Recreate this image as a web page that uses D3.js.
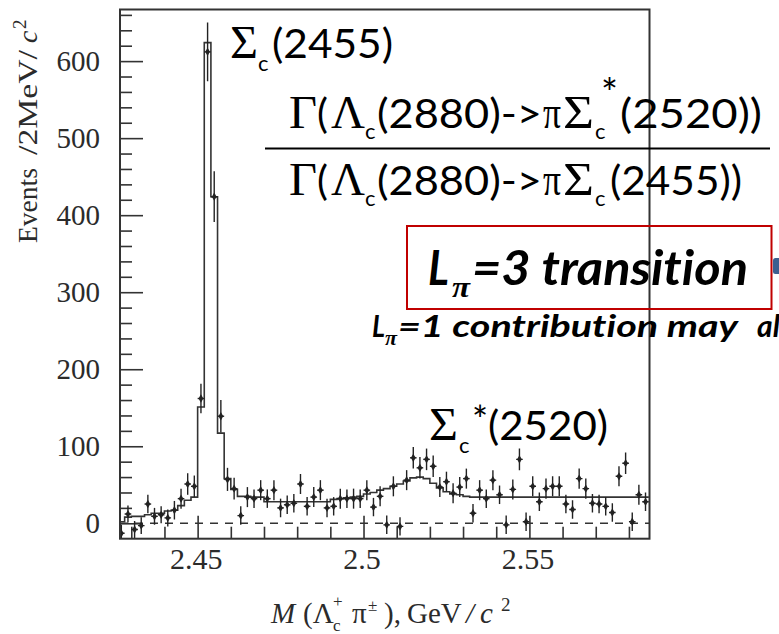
<!DOCTYPE html>
<html>
<head>
<meta charset="utf-8">
<script src="https://cdn.jsdelivr.net/npm/d3@7"></script>
<style>
  body { margin: 0; background: #fff; }
  svg { display: block; }
  text { font-variant-ligatures: none; }
</style>
</head>
<body>
<svg id="chart"></svg>
<script>
// bin centres, GeV/c^2 (2 MeV bins)
var masses = [2.427, 2.429, 2.431, 2.433, 2.435, 2.437, 2.439, 2.441, 2.443, 2.445,
  2.447, 2.449, 2.451, 2.453, 2.455, 2.457, 2.459, 2.461, 2.463, 2.465,
  2.467, 2.469, 2.471, 2.473, 2.475, 2.477, 2.479, 2.481, 2.483, 2.485,
  2.487, 2.489, 2.491, 2.493, 2.495, 2.497, 2.499, 2.501, 2.503, 2.505,
  2.507, 2.509, 2.511, 2.513, 2.515, 2.517, 2.519, 2.521, 2.523, 2.525,
  2.527, 2.529, 2.531, 2.533, 2.535, 2.537, 2.539, 2.541, 2.543, 2.545,
  2.547, 2.549, 2.551, 2.553, 2.555, 2.557, 2.559, 2.561, 2.563, 2.565,
  2.567, 2.569, 2.571, 2.573, 2.575, 2.577, 2.579, 2.581, 2.583, 2.585];

var events = [-13, 12, -8, -3, 25, 9, 11, 7, 17, 32,
  51, 48, 162, 612, 424, 139, 57, 45, 10, 34,
  32, 43, 32, 43, 20, 24, 26, 51, 22, 34,
  43, 20, 22, 32, 32, 32, 32, 43, 21, 35,
  -2, 48, -4, 56, 85, 72, 83, 74, 47, 54,
  39, 47, 58, 13, 43, 32, 56, 37, -2, 44,
  83, 2, 48, 28, 45, 48, 48, 25, 18, 58,
  45, 26, 25, 22, 14, 61, 78, 2, 37, 28];

var errors = [11, 11, 11, 11, 12, 11, 11, 11, 12, 13,
  14, 14, 19, 38, 33, 21, 15, 14, 12, 13,
  12, 13, 12, 13, 12, 12, 12, 13, 12, 13,
  13, 12, 12, 13, 12, 13, 12, 13, 12, 13,
  12, 13, 12, 13, 14, 14, 14, 14, 13, 13,
  13, 13, 13, 12, 13, 12, 13, 12, 12, 13,
  14, 12, 13, 12, 13, 13, 13, 12, 12, 13,
  13, 12, 12, 12, 12, 13, 14, 12, 13, 12];

var fit = [2, 8, 9, 9, 11, 13, 13, 16, 17, 23,
  30, 34, 151, 624, 424, 117, 58, 44, 35, 35,
  34, 34, 28, 28, 28, 28, 28, 28, 28, 28,
  28, 28, 31, 32, 33, 34, 35, 38, 40, 43,
  45, 48, 51, 55, 59, 60, 58, 52, 46, 41,
  38, 37, 35, 34, 34, 34, 34, 34, 34, 34,
  34, 34, 34, 34, 34, 34, 34, 34, 34, 34,
  34, 34, 34, 34, 34, 34, 34, 34, 34, 34];

var yTicks = [0, 100, 200, 300, 400, 500, 600];
var yMinor = [20, 40, 60, 80, 120, 140, 160, 180, 220, 240, 260, 280, 320, 340, 360, 380,
  420, 440, 460, 480, 520, 540, 560, 580, 620, 640, 660];
var xTicks = [2.45, 2.5, 2.55];
var xMinor = [2.43, 2.44, 2.46, 2.47, 2.48, 2.49, 2.51, 2.52, 2.53, 2.54, 2.56, 2.57, 2.58];

var ink = "#2b2b2b";
var serif = "'Liberation Serif', 'Times New Roman', serif";
var sans = "Lato, 'Open Sans', sans-serif";

var svg = d3.select("#chart").attr("width", 779).attr("height", 634);

var x = d3.scaleLinear().domain([2.4266, 2.5862]).range([120, 649.5]);
var y = d3.scaleLinear().domain([-20, 667]).range([538.7, 9.5]);

svg.append("defs").append("clipPath").attr("id", "plot")
  .append("rect").attr("x", 120).attr("y", 9.5).attr("width", 529.5).attr("height", 529.2);

function styleAxis(g) {
  g.select(".domain").remove();
  g.selectAll("line").attr("stroke", "#333").attr("stroke-width", 1.6);
  g.attr("font-family", serif).attr("font-size", 29);
  g.selectAll("text").attr("fill", ink);
}

// y axis: minor + major ticks pointing inward
svg.append("g").attr("transform", "translate(120,0)")
  .call(d3.axisLeft(y).tickValues(yMinor).tickSize(-12).tickFormat(""))
  .call(styleAxis);
svg.append("g").attr("transform", "translate(120,0)")
  .call(d3.axisLeft(y).tickValues(yTicks).tickSize(-23).tickPadding(20).tickFormat(d3.format("d")))
  .call(styleAxis);

// x axis
svg.append("g").attr("transform", "translate(0,538.7)")
  .call(d3.axisBottom(x).tickValues(xMinor).tickSize(-12).tickFormat(""))
  .call(styleAxis);
svg.append("g").attr("transform", "translate(0,538.7)")
  .call(d3.axisBottom(x).tickValues(xTicks).tickSize(-23).tickPadding(9).tickFormat(d3.format("")))
  .call(styleAxis)
  .call(g => g.selectAll("text").attr("font-size", 30).attr("dx", -2));

// zero line
svg.append("line")
  .attr("x1", 120).attr("x2", 649.5).attr("y1", y(0)).attr("y2", y(0))
  .attr("stroke", "#333").attr("stroke-width", 1.4).attr("stroke-dasharray", "8,7");

var plot = svg.append("g").attr("clip-path", "url(#plot)");

// fit histogram
var steps = masses.map((m, i) => [m - 0.001, fit[i]]);
steps.push([masses[masses.length - 1] + 0.001, fit[fit.length - 1]]);
plot.append("path")
  .datum(steps)
  .attr("fill", "none")
  .attr("stroke", "#333")
  .attr("stroke-width", 1.6)
  .attr("d", d3.line().x(d => x(d[0])).y(d => y(d[1])).curve(d3.curveStepAfter));

// data points with error bars
var pts = plot.selectAll("g.pt").data(masses).join("g").attr("class", "pt");
pts.append("line")
  .attr("x1", d => x(d)).attr("x2", d => x(d))
  .attr("y1", (d, i) => y(events[i] - errors[i]))
  .attr("y2", (d, i) => y(events[i] + errors[i]))
  .attr("stroke", "#222").attr("stroke-width", 1.4);
pts.append("line")
  .attr("x1", d => x(d) - 3.3).attr("x2", d => x(d) + 3.3)
  .attr("y1", (d, i) => y(events[i])).attr("y2", (d, i) => y(events[i]))
  .attr("stroke", "#222").attr("stroke-width", 1.4);
pts.append("path")
  .attr("d", d3.symbol(d3.symbolDiamond, 20))
  .attr("transform", (d, i) => "translate(" + x(d) + "," + y(events[i]) + ")")
  .attr("fill", "#222");

// frame
svg.append("rect")
  .attr("x", 120).attr("y", 9.5).attr("width", 529.5).attr("height", 529.2)
  .attr("fill", "none").attr("stroke", "#333").attr("stroke-width", 2);

// axis titles
var yt = svg.append("g").attr("transform", "translate(36.5,243) rotate(-90)")
  .attr("font-family", serif).attr("fill", ink).attr("font-size", 28);
yt.append("text").attr("x", 0).attr("textLength", 75).attr("lengthAdjust", "spacingAndGlyphs").text("Events");
yt.append("text").attr("x", 88).attr("textLength", 105).attr("lengthAdjust", "spacingAndGlyphs").text("/2MeV/");
yt.append("text").attr("x", 200).attr("font-style", "italic").text("c");
yt.append("text").attr("x", 214).attr("y", -11).attr("font-size", 19).text("2");

var xt = svg.append("g").attr("font-family", serif).attr("fill", ink).attr("font-size", 29);
function xtPart(t, px, py, size, italic) {
  var e = xt.append("text").attr("x", px).attr("y", py).text(t);
  if (size) e.attr("font-size", size);
  if (italic) e.attr("font-style", "italic");
  return e;
}
xtPart("M", 271, 623, null, true);
xtPart("(\u039B", 303, 623);
xtPart("c", 333, 631, 17);
xtPart("+", 333, 607, 17);
xtPart("\u03C0", 352, 623);
xtPart("\u00B1", 368, 611, 17);
xtPart("),", 384, 623);
xtPart("GeV", 407, 623);
xtPart("/", 466, 623, null, true);
xtPart("c", 480, 623, null, true);
xtPart("2", 501, 611, 19);

// annotations
var ann = svg.append("g").attr("fill", "#000");
function part(t, px, py, fam, size, len, extra) {
  var e = ann.append("text").attr("x", px).attr("y", py)
    .attr("font-family", fam).attr("font-size", size).text(t);
  if (len) e.attr("textLength", len).attr("lengthAdjust", "spacingAndGlyphs");
  if (extra) Object.keys(extra).forEach(k => e.attr(k, extra[k]));
  return e;
}

// Sigma_c(2455)
part("\u03A3", 230, 58, serif, 46, 28);
part("c", 258, 71, sans, 22);
part("(2455)", 272, 58, sans, 41, 121);

// ratio
[[128, "(2520))", 142, true], [195, "(2455))", 132, false]].forEach(function (r) {
  var b = r[0];
  part("\u0393", 289, b, serif, 46, 28);
  part("(", 317, b, sans, 41);
  part("\u039B", 331, b, serif, 46, 34);
  part("c", 365, b + 11, sans, 22);
  part("(2880)->", 377, b, sans, 41, 165);
  part("\u03C0", 543, b, serif, 46, 18);
  part("\u03A3", 563, b, serif, 46, 31);
  part("c", 595, b + 11, sans, 22);
  if (r[3]) part("*", 601, b - 20, sans, 40);
  part(r[1], r[3] ? 620 : 610, b, sans, 41, r[2]);
});
ann.append("line").attr("x1", 265).attr("x2", 770).attr("y1", 148.5).attr("y2", 148.5)
  .attr("stroke", "#000").attr("stroke-width", 2.2);

// Sigma_c*(2520)
part("\u03A3", 429, 440, serif, 46, 29);
part("c", 459, 453, sans, 22);
part("*", 472, 434, sans, 38);
part("(2520)", 488, 440, sans, 41, 120);

// boxed transition text
ann.append("rect").attr("x", 407).attr("y", 226).attr("width", 364.5).attr("height", 83)
  .attr("fill", "none").attr("stroke", "#c00000").attr("stroke-width", 2);
var bi = { "font-weight": "bold", "font-style": "italic" };
part("L", 428, 285, sans, 48, 21, bi);
part("\u03C0", 452, 297, serif, 30, 18, bi);
part("=3 transition", 472, 285, sans, 48, 276, bi);

part("L", 372, 337, sans, 30, 13, bi);
part("\u03C0", 385, 345, serif, 21, 12, bi);
part("=1 contribution may", 398, 337, sans, 30, 340, bi);
part("also", 757, 337, sans, 30, null, bi);

ann.append("rect").attr("x", 773).attr("y", 258).attr("width", 12).attr("height", 16)
  .attr("rx", 2.5).attr("fill", "#3d5f90");
</script>
</body>
</html>
